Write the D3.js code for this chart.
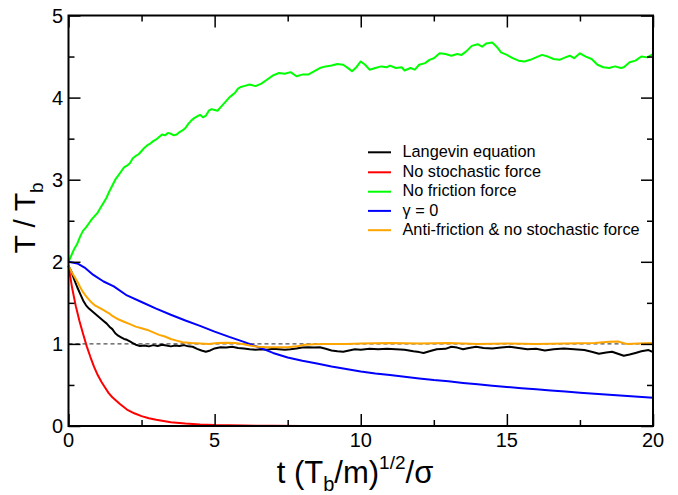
<!DOCTYPE html>
<html>
<head>
<meta charset="utf-8">
<script src="https://cdn.jsdelivr.net/npm/d3@7/dist/d3.min.js"></script>
<style>
  html, body { margin: 0; padding: 0; background: #fff; }
  svg { display: block; }
  text { font-family: "Liberation Sans", Arial, Helvetica, sans-serif; }
</style>
</head>
<body>
<svg id="chart" width="678" height="495"></svg>
<script>
// ---- data ----
const xTicksMajor = [0, 5, 10, 15, 20];
const yTicksMajor = [0, 1, 2, 3, 4, 5];
const seriesNames = ["Langevin equation", "No stochastic force", "No friction force", "\u03b3 = 0", "Anti-friction & no stochastic force"];
const seriesColors = ["#000000", "#ff0000", "#00ff00", "#0000ff", "#ffa500"];

const langevin = [[0,1.95],[0.1,1.88],[0.2,1.78],[0.3,1.69],[0.4,1.61],[0.5,1.53],[0.6,1.47],[0.7,1.43],[0.8,1.40],[0.9,1.37],[1.0,1.34],[1.1,1.31],[1.2,1.28],[1.3,1.25],[1.4,1.21],[1.5,1.18],[1.6,1.13],[1.7,1.10],[1.8,1.08],[1.9,1.06],[2.0,1.05],[2.1,1.03],[2.2,1.01],[2.3,0.99],[2.45,0.975],[2.6,0.98],[2.75,0.97],[2.9,0.985],[3.05,0.975],[3.2,0.99],[3.35,0.98],[3.5,0.97],[3.65,0.98],[3.8,0.975],[3.95,0.985],[4.1,0.97],[4.25,0.965],[4.4,0.94],[4.55,0.92],[4.7,0.905],[4.85,0.92],[5.0,0.945],[5.2,0.96],[5.4,0.955],[5.6,0.965],[5.8,0.95],[6.0,0.945],[6.2,0.935],[6.4,0.93],[6.6,0.935],[6.8,0.93],[7.0,0.94],[7.2,0.935],[7.4,0.93],[7.6,0.935],[7.8,0.945],[8.0,0.955],[8.2,0.96],[8.4,0.955],[8.6,0.96],[8.8,0.94],[9.0,0.92],[9.2,0.91],[9.4,0.905],[9.6,0.92],[9.8,0.935],[10.0,0.93],[10.3,0.94],[10.6,0.935],[10.9,0.94],[11.2,0.935],[11.5,0.93],[11.8,0.91],[12.0,0.90],[12.15,0.89],[12.35,0.91],[12.6,0.935],[12.9,0.94],[13.1,0.965],[13.3,0.955],[13.5,0.935],[13.7,0.95],[13.95,0.965],[14.2,0.95],[14.5,0.945],[14.8,0.955],[15.1,0.965],[15.4,0.95],[15.7,0.935],[16.0,0.94],[16.3,0.92],[16.6,0.935],[16.95,0.945],[17.3,0.935],[17.65,0.925],[17.9,0.905],[18.15,0.88],[18.4,0.895],[18.6,0.905],[18.8,0.88],[19.0,0.855],[19.2,0.87],[19.4,0.89],[19.6,0.91],[19.85,0.925],[20.0,0.90]];

const noStochastic = [[0,1.95],[0.125,1.68],[0.25,1.46],[0.375,1.28],[0.5,1.12],[0.625,0.97],[0.75,0.84],[0.875,0.72],[1.0,0.62],[1.125,0.54],[1.25,0.47],[1.375,0.40],[1.5,0.35],[1.75,0.27],[2.0,0.20],[2.25,0.155],[2.5,0.12],[2.75,0.095],[3.0,0.075],[3.5,0.047],[4.0,0.029],[4.5,0.018],[5.0,0.011],[6.0,0.005],[7.0,0.002],[8.0,0.001],[10.0,0],[20.0,0]];

const noFriction = [[0,2.00],[0.1,2.08],[0.2,2.16],[0.3,2.22],[0.4,2.31],[0.5,2.38],[0.6,2.42],[0.7,2.47],[0.8,2.52],[0.9,2.56],[1.0,2.60],[1.1,2.66],[1.2,2.72],[1.3,2.78],[1.4,2.86],[1.5,2.93],[1.6,3.00],[1.7,3.05],[1.8,3.10],[1.9,3.15],[2.0,3.17],[2.1,3.20],[2.2,3.26],[2.3,3.29],[2.4,3.31],[2.5,3.35],[2.6,3.39],[2.7,3.42],[2.8,3.44],[2.9,3.47],[3.0,3.49],[3.1,3.52],[3.2,3.55],[3.3,3.54],[3.4,3.57],[3.5,3.56],[3.6,3.54],[3.7,3.55],[3.8,3.58],[3.9,3.60],[4.0,3.63],[4.1,3.68],[4.2,3.72],[4.3,3.75],[4.4,3.77],[4.5,3.79],[4.6,3.76],[4.7,3.78],[4.8,3.84],[4.9,3.86],[5.0,3.85],[5.1,3.84],[5.2,3.88],[5.3,3.92],[5.4,3.96],[5.5,4.00],[5.6,4.03],[5.7,4.06],[5.8,4.11],[5.9,4.13],[6.0,4.14],[6.2,4.16],[6.4,4.14],[6.6,4.17],[6.8,4.22],[7.0,4.27],[7.2,4.30],[7.4,4.29],[7.6,4.31],[7.8,4.26],[8.0,4.28],[8.2,4.28],[8.4,4.32],[8.6,4.36],[8.8,4.38],[9.0,4.39],[9.2,4.41],[9.4,4.40],[9.6,4.35],[9.7,4.32],[9.85,4.37],[10.0,4.44],[10.15,4.40],[10.3,4.34],[10.5,4.36],[10.7,4.38],[10.9,4.37],[11.0,4.39],[11.2,4.36],[11.4,4.37],[11.5,4.33],[11.7,4.36],[11.85,4.34],[12.0,4.40],[12.2,4.42],[12.35,4.46],[12.5,4.48],[12.7,4.54],[12.9,4.53],[13.1,4.51],[13.3,4.53],[13.45,4.52],[13.6,4.56],[13.8,4.63],[14.0,4.65],[14.15,4.62],[14.3,4.66],[14.5,4.67],[14.65,4.62],[14.8,4.55],[15.0,4.52],[15.2,4.48],[15.4,4.45],[15.6,4.44],[15.8,4.46],[16.0,4.49],[16.2,4.52],[16.4,4.50],[16.6,4.47],[16.8,4.46],[17.0,4.49],[17.15,4.51],[17.3,4.48],[17.5,4.54],[17.7,4.50],[17.9,4.47],[18.1,4.40],[18.3,4.37],[18.5,4.36],[18.7,4.38],[18.9,4.36],[19.0,4.37],[19.2,4.43],[19.4,4.45],[19.6,4.50],[19.8,4.49],[20.0,4.53]];

const gammaZero = [[0,2.00],[0.3,1.98],[0.55,1.93],[0.85,1.84],[1.2,1.76],[1.55,1.70],[2.0,1.59],[2.5,1.51],[3.0,1.43],[3.5,1.355],[4.0,1.285],[4.5,1.22],[5.0,1.15],[5.5,1.085],[6.0,1.025],[6.5,0.96],[7.0,0.89],[7.5,0.835],[8.0,0.795],[8.5,0.76],[9.0,0.725],[9.5,0.695],[10.0,0.665],[10.5,0.64],[11.0,0.62],[11.5,0.60],[12.0,0.58],[12.5,0.56],[13.0,0.545],[13.5,0.525],[14.0,0.508],[14.5,0.49],[15.0,0.475],[15.5,0.46],[16.0,0.447],[16.5,0.433],[17.0,0.42],[17.5,0.405],[18.0,0.392],[18.5,0.38],[19.0,0.368],[19.5,0.357],[20.0,0.345]];

const antiFriction = [[0,1.95],[0.1,1.88],[0.2,1.82],[0.3,1.76],[0.4,1.69],[0.5,1.63],[0.6,1.58],[0.7,1.54],[0.8,1.50],[0.9,1.47],[1.0,1.45],[1.2,1.41],[1.4,1.37],[1.5,1.34],[1.7,1.30],[1.9,1.27],[2.1,1.24],[2.3,1.21],[2.5,1.19],[2.7,1.17],[2.9,1.14],[3.1,1.11],[3.3,1.09],[3.5,1.06],[3.7,1.04],[3.9,1.02],[4.2,1.01],[4.5,1.005],[4.8,1.0],[5.1,1.01],[5.4,1.015],[5.7,1.01],[6.0,0.995],[6.2,0.98],[6.5,0.965],[6.8,0.96],[7.1,0.96],[7.5,0.96],[7.8,0.97],[8.1,0.99],[8.4,0.995],[8.8,1.0],[9.5,1.0],[10.0,1.005],[11.0,1.01],[12.0,1.005],[13.0,1.01],[14.0,1.0],[15.0,1.005],[16.0,1.0],[17.0,1.005],[18.0,1.01],[18.5,1.025],[18.8,1.03],[19.1,1.0],[19.5,1.005],[20.0,1.01]];

const referenceLevel = 1;

// ---- chart ----
const svg = d3.select("#chart");
const x = d3.scaleLinear().domain([0, 20]).range([68.5, 653]);
const y = d3.scaleLinear().domain([0, 5]).range([426, 15.5]);

const series = [langevin, noStochastic, noFriction, gammaZero, antiFriction];

// reference dashed line
svg.append("line")
  .attr("x1", x(0)).attr("x2", x(20))
  .attr("y1", y(referenceLevel)).attr("y2", y(referenceLevel))
  .attr("stroke", "#222").attr("stroke-width", 1)
  .attr("stroke-dasharray", "4,3");

const line = d3.line().x(d => x(d[0])).y(d => y(d[1]));
const plot = svg.append("g");
series.forEach((s, i) => {
  plot.append("path").datum(s)
    .attr("d", line)
    .attr("fill", "none")
    .attr("stroke", seriesColors[i])
    .attr("stroke-width", 2)
    .attr("stroke-linejoin", "round");
});

// axes: ticks inward on all sides
const xMinor = d3.range(0, 20.01, 2.5).filter(v => v % 5 !== 0);
const yMinor = d3.range(0, 5.01, 0.5).filter(v => v % 1 !== 0);
const tickStyle = g => g.call(g => g.select(".domain").remove())
  .call(g => g.selectAll(".tick line").attr("stroke", "#000").attr("stroke-width", 1.5));

function addAxis(axisGen, transform, vals, size) {
  const g = svg.append("g").attr("transform", transform)
    .call(axisGen.tickValues(vals).tickSize(size).tickFormat(""));
  tickStyle(g);
  return g;
}
// bottom
addAxis(d3.axisTop(x), `translate(0,${y(0)})`, xTicksMajor, 12);
addAxis(d3.axisTop(x), `translate(0,${y(0)})`, xMinor, 6);
// top
addAxis(d3.axisBottom(x), `translate(0,${y(5)})`, xTicksMajor, 12);
addAxis(d3.axisBottom(x), `translate(0,${y(5)})`, xMinor, 6);
// left
addAxis(d3.axisRight(y), `translate(${x(0)},0)`, yTicksMajor, 12);
addAxis(d3.axisRight(y), `translate(${x(0)},0)`, yMinor, 6);
// right
addAxis(d3.axisLeft(y), `translate(${x(20)},0)`, yTicksMajor, 12);
addAxis(d3.axisLeft(y), `translate(${x(20)},0)`, yMinor, 6);

// tick labels
svg.append("g").selectAll("text").data(xTicksMajor).join("text")
  .attr("x", d => x(d)).attr("y", 447)
  .attr("text-anchor", "middle").attr("font-size", 20).attr("fill", "#000")
  .text(d => d);
svg.append("g").selectAll("text").data(yTicksMajor).join("text")
  .attr("x", 63).attr("y", d => y(d) + 7)
  .attr("text-anchor", "end").attr("font-size", 20).attr("fill", "#000")
  .text(d => d);

// frame
svg.append("rect")
  .attr("x", x(0)).attr("y", y(5))
  .attr("width", x(20) - x(0)).attr("height", y(0) - y(5))
  .attr("fill", "none").attr("stroke", "#000").attr("stroke-width", 2);

// x title
const xt = svg.append("text")
  .attr("x", 355).attr("y", 483)
  .attr("text-anchor", "middle").attr("font-size", 31).attr("fill", "#000");
xt.append("tspan").text("t (T");
xt.append("tspan").attr("dy", 8).attr("font-size", 20).text("b");
xt.append("tspan").attr("dy", -8).text("/m)");
xt.append("tspan").attr("dy", -14).attr("font-size", 19).text("1/2");
xt.append("tspan").attr("dy", 14).text("/\u03c3");

// y title
const yt = svg.append("text")
  .attr("transform", "translate(35,218) rotate(-90)")
  .attr("text-anchor", "middle").attr("font-size", 30).attr("fill", "#000");
yt.append("tspan").text("T / T");
yt.append("tspan").attr("dy", 8).attr("font-size", 19).text("b");

// legend
const legY = [152.3, 172.3, 191.7, 210.9, 230.2];
const leg = svg.append("g");
seriesNames.forEach((name, i) => {
  leg.append("line")
    .attr("x1", 368).attr("x2", 391)
    .attr("y1", legY[i]).attr("y2", legY[i])
    .attr("stroke", seriesColors[i]).attr("stroke-width", 2);
  leg.append("text")
    .attr("x", 402.5).attr("y", legY[i] + 4.6)
    .attr("font-size", 16.3).attr("fill", "#000")
    .text(name);
});
</script>
</body>
</html>
